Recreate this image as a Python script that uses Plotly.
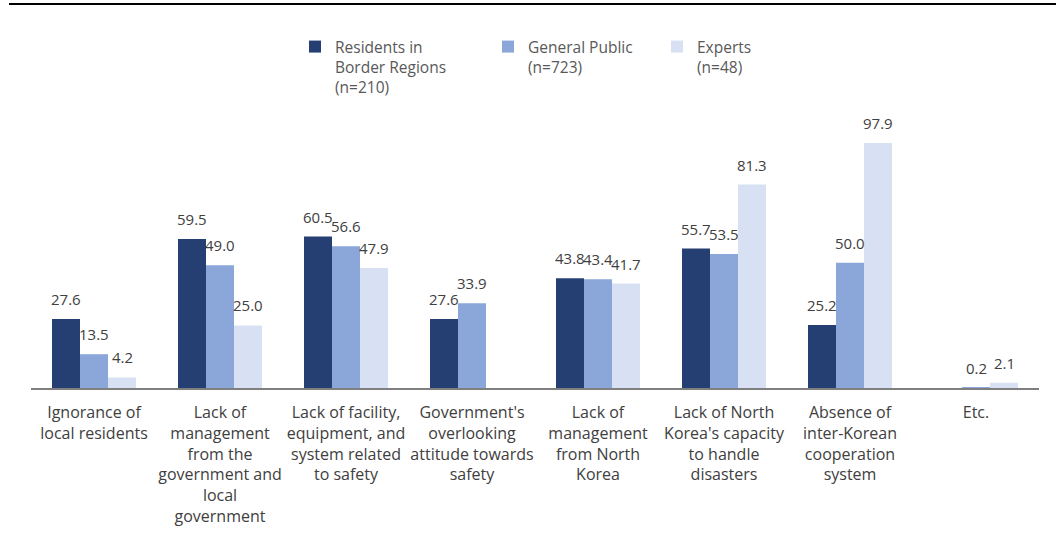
import plotly.graph_objects as go

categories = [
    "Ignorance of<br>local residents",
    "Lack of<br>management<br>from the<br>government and<br>local<br>government",
    "Lack of facility,<br>equipment, and<br>system related<br>to safety",
    "Government's<br>overlooking<br>attitude towards<br>safety",
    "Lack of<br>management<br>from North<br>Korea",
    "Lack of North<br>Korea's capacity<br>to handle<br>disasters",
    "Absence of<br>inter-Korean<br>cooperation<br>system",
    "Etc.",
]
residents = [27.6, 59.5, 60.5, 27.6, 43.8, 55.7, 25.2, None]
general_public = [13.5, 49.0, 56.6, 33.9, 43.4, 53.5, 50.0, 0.2]
experts = [4.2, 25.0, 47.9, None, 41.7, 81.3, 97.9, 2.1]

series_names = [
    "Residents in<br>Border Regions<br>(n=210)",
    "General Public<br>(n=723)",
    "Experts<br>(n=48)",
]
colors = ["#263f73", "#8ba7da", "#d8e1f3"]
legend_ids = ["legend", "legend2", "legend3"]
all_series = [residents, general_public, experts]

FONT = "Open Sans, Noto Sans, sans-serif"
L, R_, T, B = 31, 17, 120, 158
W, H = 1056, 546
pw = W - L - R_
ph = H - T - B
BARGAP = 0.3333

def px_x(x):
    return (x - L) / pw
def px_y(y):
    return (H - B - y) / ph

fig = go.Figure()
for name, vals, col, lg in zip(series_names, all_series, colors, legend_ids):
    fig.add_trace(go.Bar(
        x=categories, y=vals, name=name, marker_color=col,
        marker_line_width=0, legend=lg, hoverinfo="skip",
    ))

# value labels placed above each bar (offset within category group)
nser = len(all_series)
bw = (1 - BARGAP) / nser
annotations = []
for i, vals in enumerate(all_series):
    off = (i - (nser - 1) / 2) * bw
    for j, v in enumerate(vals):
        if v is None:
            continue
        annotations.append(dict(
            x=j + off, y=v, xref="x", yref="y", text="%.1f" % v,
            showarrow=False, yanchor="middle", xanchor="center", yshift=20,
            font=dict(size=15, color="#404040", family=FONT),
        ))

leg_common = dict(orientation="v", xanchor="left", yanchor="top",
                  font=dict(size=15.5, color="#595959", family=FONT),
                  bgcolor="rgba(0,0,0,0)", valign="top", itemclick=False)

fig.update_layout(
    width=W, height=H,
    margin=dict(l=L, r=R_, t=T, b=B),
    paper_bgcolor="white", plot_bgcolor="white",
    font=dict(family=FONT, color="#404040"),
    barmode="group", bargap=BARGAP, bargroupgap=0,
    hovermode=False,
    showlegend=True,
    legend=dict(x=px_x(295), y=px_y(30), **leg_common),
    legend2=dict(x=px_x(488), y=px_y(30), **leg_common),
    legend3=dict(x=px_x(657), y=px_y(30), **leg_common),
    xaxis=dict(showline=True, linecolor="#7f7f7f", linewidth=1.5,
               ticks="", tickfont=dict(size=16, color="#404040", family=FONT),
               ticklabelstandoff=9,
               showgrid=False, zeroline=False, tickangle=0),
    yaxis=dict(range=[0, ph / 2.503], visible=False, showgrid=False, zeroline=False),
    shapes=[dict(type="line", xref="paper", yref="paper",
                 x0=px_x(9), x1=px_x(1056), y0=px_y(4), y1=px_y(4),
                 line=dict(color="black", width=2))],
    annotations=annotations,
)

fig.write_html("out.html", config={"displayModeBar": False},
               post_script="document.body.style.margin='0px';")
